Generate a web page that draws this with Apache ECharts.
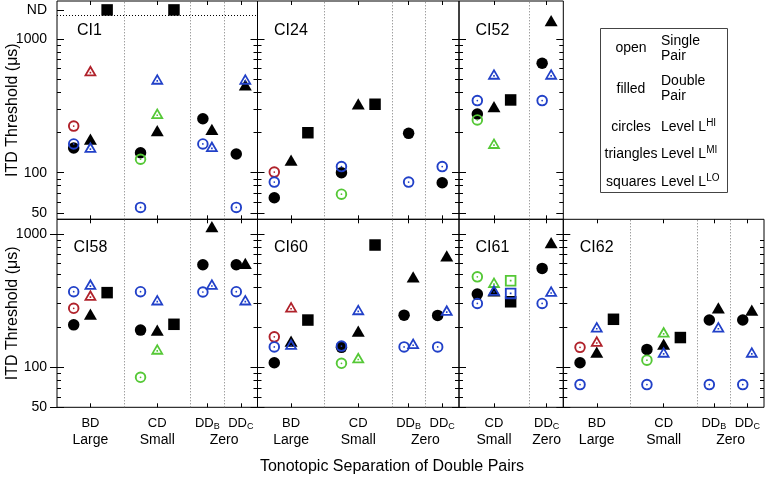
<!DOCTYPE html>
<html>
<head>
<meta charset="utf-8">
<script src="https://cdn.jsdelivr.net/npm/echarts@6/dist/echarts.min.js"></script>
<style>
html, body { margin: 0; padding: 0; background: #fff; }
#chart { width: 767px; height: 477px; }
</style>
</head>
<body>
<div id="chart"></div>
<script>
// categories, groups and tick labels
const catsFull = ['BD', 'CD', 'DD_B', 'DD_C']
const catsNarrow = ['CD', 'DD_C']
const groupsFull = ['Large', 'Small', 'Zero']
const groupsNarrow = ['Small', 'Zero']
const yLabels = [50, 100, 1000]
const yMinor = [60, 70, 80, 90, 200, 300, 400, 500, 600, 700, 800, 900]

// [category, shape (o circle / t triangle / s square), colour (k = filled, r b g = open), ITD threshold in µs or 'ND']
const ci1 = [
  ['BD', 'o', 'k', 153], ['BD', 't', 'k', 178], ['BD', 's', 'k', 'ND'],
  ['BD', 'o', 'r', 223], ['BD', 'o', 'b', 164], ['BD', 't', 'r', 579], ['BD', 't', 'b', 155],
  ['CD', 'o', 'k', 141], ['CD', 't', 'k', 206], ['CD', 's', 'k', 'ND'],
  ['CD', 'o', 'g', 126], ['CD', 'o', 'b', 55], ['CD', 't', 'b', 502], ['CD', 't', 'g', 278],
  ['DD_B', 'o', 'k', 253], ['DD_B', 't', 'k', 211], ['DD_B', 'o', 'b', 164], ['DD_B', 't', 'b', 157],
  ['DD_C', 'o', 'k', 138], ['DD_C', 't', 'k', 453], ['DD_C', 'o', 'b', 55], ['DD_C', 't', 'b', 502]
]
const ci24 = [
  ['BD', 'o', 'k', 65], ['BD', 't', 'k', 124], ['BD', 's', 'k', 199],
  ['BD', 'o', 'r', 101], ['BD', 'o', 'b', 85],
  ['CD', 'o', 'k', 100], ['CD', 't', 'k', 327], ['CD', 's', 'k', 325],
  ['CD', 'o', 'b', 111], ['CD', 'o', 'g', 69],
  ['DD_B', 'o', 'k', 197], ['DD_B', 'o', 'b', 85],
  ['DD_C', 'o', 'k', 84], ['DD_C', 'o', 'b', 111]
]
const ci52 = [
  ['CD', 'o', 'k', 275], ['CD', 't', 'k', 312], ['CD', 's', 'k', 350],
  ['CD', 'o', 'b', 346], ['CD', 'o', 'g', 248], ['CD', 't', 'b', 547], ['CD', 't', 'g', 166],
  ['DD_C', 'o', 'k', 658], ['DD_C', 't', 'k', 1371], ['DD_C', 'o', 'b', 346], ['DD_C', 't', 'b', 547]
]
const ci58 = [
  ['BD', 'o', 'k', 208], ['BD', 't', 'k', 250], ['BD', 's', 'k', 363],
  ['BD', 'o', 'b', 369], ['BD', 'o', 'r', 277], ['BD', 't', 'b', 420], ['BD', 't', 'r', 347],
  ['CD', 'o', 'k', 190], ['CD', 't', 'k', 190], ['CD', 's', 'k', 210],
  ['CD', 'o', 'b', 369], ['CD', 'o', 'g', 84], ['CD', 't', 'b', 321], ['CD', 't', 'g', 137],
  ['DD_B', 'o', 'k', 588], ['DD_B', 't', 'k', 1135], ['DD_B', 'o', 'b', 367], ['DD_B', 't', 'b', 421],
  ['DD_C', 'o', 'k', 588], ['DD_C', 't', 'k', 602], ['DD_C', 'o', 'b', 369], ['DD_C', 't', 'b', 321]
]
const ci60 = [
  ['BD', 'o', 'k', 108], ['BD', 't', 'k', 157], ['BD', 's', 'k', 226],
  ['BD', 'o', 'r', 169], ['BD', 'o', 'b', 142], ['BD', 't', 'r', 284], ['BD', 't', 'b', 149],
  ['CD', 'o', 'k', 141], ['CD', 't', 'k', 187], ['CD', 's', 'k', 827],
  ['CD', 'o', 'b', 144], ['CD', 'o', 'g', 107], ['CD', 't', 'b', 271], ['CD', 't', 'g', 118],
  ['DD_B', 'o', 'k', 246], ['DD_B', 't', 'k', 477], ['DD_B', 'o', 'b', 142], ['DD_B', 't', 'b', 151],
  ['DD_C', 'o', 'k', 245], ['DD_C', 't', 'k', 684], ['DD_C', 'o', 'b', 142], ['DD_C', 't', 'b', 268]
]
const ci61 = [
  ['CD', 'o', 'k', 354], ['CD', 't', 'k', 375], ['CD', 's', 'k', 310],
  ['CD', 'o', 'g', 477], ['CD', 'o', 'b', 301], ['CD', 't', 'g', 434], ['CD', 't', 'b', 379],
  ['CD', 's', 'g', 446], ['CD', 's', 'b', 358],
  ['DD_C', 'o', 'k', 552], ['DD_C', 't', 'k', 861], ['DD_C', 'o', 'b', 301], ['DD_C', 't', 'b', 373]
]
const ci62 = [
  ['BD', 'o', 'k', 108], ['BD', 't', 'k', 130], ['BD', 's', 'k', 229],
  ['BD', 'o', 'r', 141], ['BD', 'o', 'b', 74], ['BD', 't', 'b', 201], ['BD', 't', 'r', 157],
  ['CD', 'o', 'k', 136], ['CD', 't', 'k', 149], ['CD', 's', 'k', 167],
  ['CD', 'o', 'g', 113], ['CD', 'o', 'b', 74], ['CD', 't', 'g', 184], ['CD', 't', 'b', 130],
  ['DD_B', 'o', 'k', 226], ['DD_B', 't', 'k', 279], ['DD_B', 'o', 'b', 74], ['DD_B', 't', 'b', 201],
  ['DD_C', 'o', 'k', 226], ['DD_C', 't', 'k', 268], ['DD_C', 'o', 'b', 74], ['DD_C', 't', 'b', 130]
]

const panels = [
  { name: 'CI1', data: ci1, row: 0, col: 0, layout: 'full', nd: true },
  { name: 'CI24', data: ci24, row: 0, col: 1, layout: 'full' },
  { name: 'CI52', data: ci52, row: 0, col: 2, layout: 'narrow' },
  { name: 'CI58', data: ci58, row: 1, col: 0, layout: 'full' },
  { name: 'CI60', data: ci60, row: 1, col: 1, layout: 'full' },
  { name: 'CI61', data: ci61, row: 1, col: 2, layout: 'narrow' },
  { name: 'CI62', data: ci62, row: 1, col: 3, layout: 'full' }
]

// layout
const FONT = '"Liberation Sans", Arial, sans-serif'
const ND_VALUE = 1650
const ND_LINE = 1500
const rows = [
  { top: 1, height: 218.3, min: 44.8, max: 1924 },
  { top: 219.3, height: 188, min: 50, max: 1290 }
]
const cols = [
  { left: 57, width: 200.5 },
  { left: 257.5, width: 201.5 },
  { left: 459, width: 104.3 },
  { left: 563.3, width: 200.7 }
]
const layouts = {
  full: { cats: catsFull, groups: groupsFull, pos: { BD: 2, CD: 6, DD_B: 9, DD_C: 11 }, groupPos: [2, 6, 10], seps: [4, 8, 10], max: 12 },
  narrow: { cats: catsNarrow, groups: groupsNarrow, pos: { CD: 2.1, DD_C: 5.26 }, groupPos: [2.1, 5.26], seps: [4.2], max: 6.26 }
}
const colours = { k: '#000', r: '#b0222b', b: '#2140c8', g: '#55c836' }
const symbols = {
  o: { filled: 'circle', open: 'path://M0,-10A10,10,0,1,1,0,10A10,10,0,1,1,0,-10ZM0,-6.7A6.7,6.7,0,1,0,0,6.7A6.7,6.7,0,1,0,0,-6.7ZM0,-1.5A1.5,1.5,0,1,1,0,1.5A1.5,1.5,0,1,1,0,-1.5Z', size: 11.5 },
  t: { filled: 'path://M0,-9L10.4,9L-10.4,9Z', open: 'path://M0,-9L10.4,9L-10.4,9ZM0,-3.2L-5.54,6.1L5.54,6.1ZM-1.3,1.7L1.3,1.7L1.3,4.3L-1.3,4.3Z', size: [13, 11.25] },
  s: { filled: 'rect', open: 'path://M-10,-10L10,-10L10,10L-10,10ZM-6.8,-6.8L-6.8,6.8L6.8,6.8L6.8,-6.8ZM-1.5,-1.5L1.5,-1.5L1.5,1.5L-1.5,1.5Z', size: 11.5 }
}

function catLabel(name) {
  const parts = name.split('_')
  return parts[1] ? '{c|' + parts[0] + '}{s|' + parts[1] + '}' : '{c|' + parts[0] + '}'
}
function nearestKey(map, v) {
  let best = null, d = Infinity
  Object.keys(map).forEach(k => {
    const dd = Math.abs(map[k] - v)
    if (dd < d) { d = dd; best = k }
  })
  return best
}
function xOf(p, lay, d) {
  const c = lay.pos[d[0]]
  if (d[0].indexOf('DD') !== 0) return c + { o: -1, t: 0, s: 1 }[d[1]]
  const hasTri = p.data.some(e => e[0] === d[0] && e[1] === 't')
  return hasTri ? c + (d[1] === 'o' ? -0.27 : 0.27) : c
}

const option = {
  animation: false,
  textStyle: { fontFamily: FONT },
  grid: [], xAxis: [], yAxis: [], series: [], graphic: []
}

panels.forEach((p, i) => {
  const row = rows[p.row]
  const col = cols[p.col]
  const lay = layouts[p.layout]
  const tickPos = lay.cats.map(c => lay.pos[c])

  option.grid.push({
    left: col.left, top: row.top, width: col.width, height: row.height,
    show: true, borderColor: '#000', borderWidth: 1, backgroundColor: 'transparent',
    containLabel: false, outerBoundsMode: 'none'
  })

  const xBase = { gridIndex: i, type: 'value', min: 0, max: lay.max, axisLine: { show: false }, splitLine: { show: false } }
  const xi = option.xAxis.length
  option.xAxis.push(Object.assign({}, xBase, {
    position: 'bottom',
    axisTick: { inside: true, length: 4, customValues: tickPos, lineStyle: { color: '#000' } },
    axisLabel: p.row === 1 ? {
      customValues: tickPos, margin: 8, color: '#000',
      formatter: v => catLabel(nearestKey(lay.pos, v)),
      rich: {
        c: { fontSize: 13, lineHeight: 16, color: '#000', fontFamily: FONT },
        s: { fontSize: 9, lineHeight: 9, color: '#000', fontFamily: FONT, verticalAlign: 'bottom' }
      }
    } : { show: false }
  }))
  option.xAxis.push(Object.assign({}, xBase, {
    position: 'top',
    axisTick: { inside: true, length: 4, customValues: tickPos, lineStyle: { color: '#000' } },
    axisLabel: { show: false }
  }))
  if (p.row === 1) {
    option.xAxis.push(Object.assign({}, xBase, {
      position: 'bottom',
      axisTick: { show: false },
      axisLabel: {
        customValues: lay.groupPos, margin: 26, fontSize: 14, color: '#000',
        formatter: v => lay.groups[lay.groupPos.findIndex(g => Math.abs(g - v) < 1e-6)]
      }
    }))
  }

  const yBase = { gridIndex: i, type: 'log', logBase: 10, min: row.min, max: row.max, axisLine: { show: false }, splitLine: { show: false } }
  const major = p.nd ? yLabels.concat([ND_VALUE]) : yLabels
  const yi = option.yAxis.length
  option.yAxis.push(Object.assign({}, yBase, {
    position: 'left',
    axisTick: { inside: true, length: 7, customValues: major, lineStyle: { color: '#000' } },
    axisLabel: p.col === 0 ? {
      customValues: p.row === 0 ? yLabels.concat([ND_VALUE]) : yLabels,
      margin: 10, fontSize: 14, color: '#000',
      formatter: v => (v > ND_LINE ? 'ND' : String(Math.round(v)))
    } : { show: false },
    name: p.col === 0 ? 'ITD Threshold (μs)' : '',
    nameLocation: 'middle', nameGap: 36, nameMoveOverlap: false,
    nameTextStyle: { fontSize: 16, color: '#000', fontFamily: FONT }
  }))
  option.yAxis.push(Object.assign({}, yBase, {
    position: 'left',
    axisTick: { inside: true, length: 4, customValues: yMinor, lineStyle: { color: '#000' } },
    axisLabel: { show: false }
  }))
  option.yAxis.push(Object.assign({}, yBase, {
    position: 'right',
    axisTick: { inside: true, length: 7, customValues: yLabels, lineStyle: { color: '#000' } },
    axisLabel: { show: false }
  }))
  option.yAxis.push(Object.assign({}, yBase, {
    position: 'right',
    axisTick: { inside: true, length: 4, customValues: yMinor, lineStyle: { color: '#000' } },
    axisLabel: { show: false }
  }))

  // filled marks first, open marks drawn on top
  const ordered = p.data.filter(d => d[2] === 'k').concat(p.data.filter(d => d[2] !== 'k'))
  const items = ordered.map(d => {
    const sym = symbols[d[1]]
    return {
      value: [xOf(p, lay, d), d[3] === 'ND' ? ND_VALUE : d[3]],
      symbol: d[2] === 'k' ? sym.filled : sym.open,
      symbolSize: sym.size,
      itemStyle: { color: colours[d[2]], opacity: 1 }
    }
  })

  const lines = lay.seps.map(s => ({ xAxis: s, lineStyle: { color: '#777', type: [1, 2], width: 1 } }))
  if (p.nd) lines.push({ yAxis: ND_LINE, lineStyle: { color: '#000', type: [1, 2], width: 1 } })

  option.series.push({
    type: 'scatter', name: p.name, xAxisIndex: xi, yAxisIndex: yi,
    data: items, z: 3,
    markLine: { silent: true, symbol: 'none', label: { show: false }, animation: false, data: lines }
  })

  option.graphic.push({
    type: 'text', x: col.left + (p.name === 'CI1' ? 20 : 16.5), y: row.top + (p.row === 0 ? 30 : 28),
    style: { text: p.name, fontSize: 16, fontFamily: FONT, fill: '#000', textVerticalAlign: 'middle' }
  })
})

// x axis title
option.graphic.push({
  type: 'text', x: 392, y: 467,
  style: { text: 'Tonotopic Separation of Double Pairs', fontSize: 16, fontFamily: FONT, fill: '#000', textAlign: 'center', textVerticalAlign: 'middle' }
})

// legend box
const legendRows = [
  { key: 'open', desc: 'Single\nPair', y: 48.5 },
  { key: 'filled', desc: 'Double\nPair', y: 89 },
  { key: 'circles', desc: '{a|Level L}{p|HI}', y: 127 },
  { key: 'triangles', desc: '{a|Level L}{p|MI}', y: 154 },
  { key: 'squares', desc: '{a|Level L}{p|LO}', y: 182 }
]
option.graphic.push({
  type: 'rect', shape: { x: 600.5, y: 28.5, width: 127, height: 164 },
  style: { fill: '#fff', stroke: '#444', lineWidth: 1 }
})
legendRows.forEach(r => {
  option.graphic.push({
    type: 'text', x: 631, y: r.y,
    style: { text: r.key, fontSize: 14, fontFamily: FONT, fill: '#000', textAlign: 'center', textVerticalAlign: 'middle' }
  })
  option.graphic.push({
    type: 'text', x: 661, y: r.y,
    style: {
      text: r.desc, fontSize: 14, lineHeight: 15, fontFamily: FONT, fill: '#000', textAlign: 'left', textVerticalAlign: 'middle',
      rich: {
        a: { fontSize: 14, lineHeight: 18, fontFamily: FONT, fill: '#000' },
        p: { fontSize: 10, lineHeight: 10, fontFamily: FONT, fill: '#000', verticalAlign: 'top' }
      }
    }
  })
})

const myChart = echarts.init(document.getElementById('chart'), null, { renderer: 'canvas' })
myChart.setOption(option)
</script>
</body>
</html>
